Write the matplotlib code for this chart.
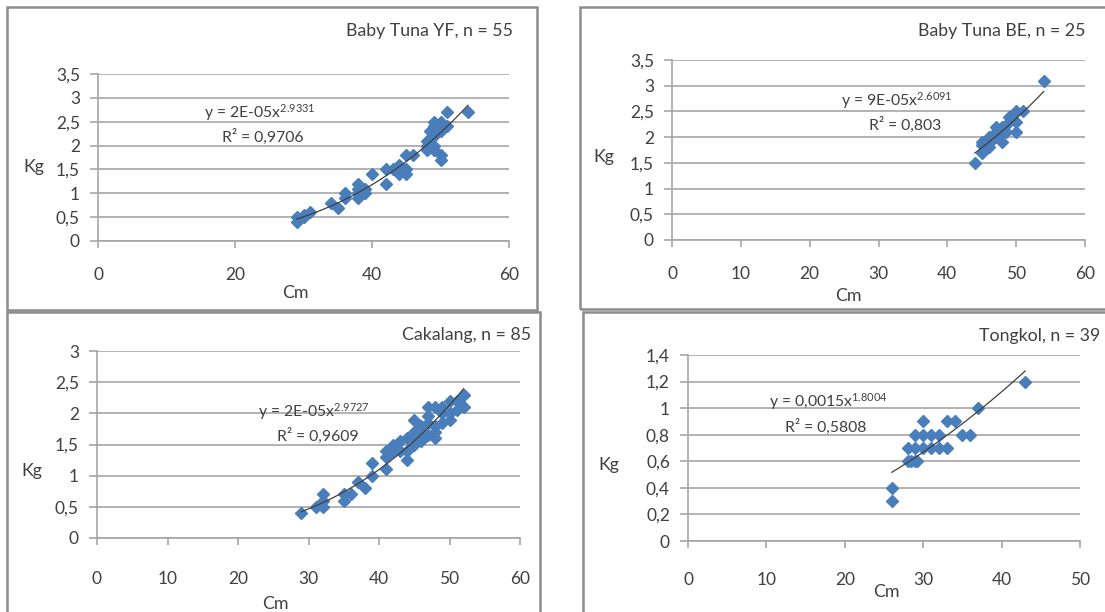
import matplotlib
matplotlib.use("Agg")
import matplotlib.pyplot as plt
from matplotlib.patches import Rectangle
import numpy as np

FONT = "Lato"
plt.rcParams['font.family'] = [FONT, 'DejaVu Sans']
plt.rcParams['mathtext.fontset'] = 'custom'
plt.rcParams['mathtext.rm'] = FONT
plt.rcParams['mathtext.default'] = 'regular'

W, H = 1105, 612
BLUE = '#4a7ebb'
GRID = '#a6a6a6'
TXT = '#404040'

# Baby Tuna YF, n = 55
yf_cm = [29, 29, 30, 30, 31, 34, 35, 36, 36, 38, 38, 38, 38, 39, 39, 40, 42, 42, 43, 44,
         44, 44, 45, 45, 45, 46, 48, 48, 48, 48.5, 49, 49, 49, 49, 49, 50, 50, 50, 50, 50,
         51, 51, 54]
yf_kg = [0.4, 0.5, 0.5, 0.55, 0.6, 0.8, 0.7, 1.0, 0.9, 1.2, 1.1, 0.9, 1.0, 1.0, 1.1, 1.4, 1.2, 1.5, 1.5, 1.4,
         1.6, 1.5, 1.5, 1.8, 1.4, 1.8, 2.1, 2.0, 1.9, 2.3, 2.5, 2.4, 2.0, 2.2, 1.9, 1.7, 1.8, 2.5, 2.3, 2.4,
         2.7, 2.4, 2.7]
yf_exp = 2.9331

# Baby Tuna BE, n = 25
be_cm = [44, 45, 45, 45, 46, 46, 46, 46.5, 47, 47, 47, 47.5, 48, 48, 48.5, 49, 49, 50, 50, 50, 51, 54]
be_kg = [1.5, 1.7, 1.9, 1.85, 1.8, 2.0, 1.9, 1.95, 2.0, 2.2, 2.1, 2.05, 1.9, 2.2, 2.1, 2.4, 2.3, 2.5, 2.3, 2.1, 2.5, 3.1]
be_exp = 2.6091

# Cakalang, n = 85
ck_cm = [29, 31, 32, 32, 32, 35, 35, 36, 37, 38, 39, 39, 41, 41, 41, 42, 42, 43, 43, 44,
         44, 44, 45, 45, 45, 45, 46, 46, 46, 46, 47, 47, 47, 47, 48, 48, 48, 48, 49, 49,
         49, 50, 50, 50, 51, 51, 52, 52]
ck_kg = [0.4, 0.5, 0.5, 0.7, 0.6, 0.6, 0.7, 0.7, 0.9, 0.8, 1.2, 1.0, 1.1, 1.4, 1.3, 1.5, 1.4, 1.55, 1.4, 1.25,
         1.4, 1.6, 1.9, 1.5, 1.7, 1.6, 1.55, 1.8, 1.7, 1.6, 2.1, 1.85, 1.65, 1.95, 2.1, 1.6, 1.8, 1.7, 2.0, 1.85,
         2.1, 2.2, 1.9, 2.0, 2.2, 2.05, 2.3, 2.1]
ck_exp = 2.9727

# Tongkol, n = 39
tk_cm = [26, 26, 28, 28, 28.5, 29, 29, 29, 29.2, 30, 30, 30, 31, 31, 32, 32, 33, 33, 34, 35, 36, 37, 43]
tk_kg = [0.4, 0.3, 0.7, 0.6, 0.6, 0.8, 0.7, 0.6, 0.6, 0.9, 0.8, 0.7, 0.8, 0.7, 0.8, 0.7, 0.9, 0.7, 0.9, 0.8, 0.8, 1.0, 1.2]
tk_exp = 1.8004

panels = [
    dict(x=yf_cm, y=yf_kg, b=yf_exp, title="Baby Tuna YF, n = 55", eq="y = 2E-05x$^{2.9331}$", r2="R² = 0,9706",
         xticks=[0, 20, 40, 60], yticks=[0, 0.5, 1, 1.5, 2, 2.5, 3, 3.5],
         ylabels=["0", "0,5", "1", "1,5", "2", "2,5", "3", "3,5"], xlim=60, xpad=14,
         ax_px=(98, 74, 509, 241), title_px=(513, 31), eq_px=(260, 113), r2_px=(263, 137),
         cm_px=(295, 293), kg_px=(34, 167), box=(7, 7, 537, 310)),
    dict(x=be_cm, y=be_kg, b=be_exp, title="Baby Tuna BE, n = 25", eq="y = 9E-05x$^{2.6091}$", r2="R² = 0,803",
         xticks=[0, 10, 20, 30, 40, 50, 60], yticks=[0, 0.5, 1, 1.5, 2, 2.5, 3, 3.5],
         ylabels=["0", "0,5", "1", "1,5", "2", "2,5", "3", "3,5"], xlim=60, xpad=13.5,
         ax_px=(672, 60, 1085, 240), title_px=(1085, 31), eq_px=(897, 101), r2_px=(905, 125),
         cm_px=(848, 296), kg_px=(604, 157), box=(580, 7, 1112, 309)),
    dict(x=ck_cm, y=ck_kg, b=ck_exp, title="Cakalang, n = 85", eq="y = 2E-05x$^{2.9727}$", r2="R² = 0,9609",
         xticks=[0, 10, 20, 30, 40, 50, 60], yticks=[0, 0.5, 1, 1.5, 2, 2.5, 3],
         ylabels=["0", "0,5", "1", "1,5", "2", "2,5", "3"], xlim=60, xpad=18.5,
         ax_px=(97, 351, 520, 538), title_px=(531, 335), eq_px=(314, 412), r2_px=(318, 436),
         cm_px=(275, 604), kg_px=(32, 471), box=(7, 312, 540, 620)),
    dict(x=tk_cm, y=tk_kg, b=tk_exp, title="Tongkol, n = 39", eq="y = 0,0015x$^{1.8004}$", r2="R² = 0,5808",
         xticks=[0, 10, 20, 30, 40, 50], yticks=[0, 0.2, 0.4, 0.6, 0.8, 1, 1.2, 1.4],
         ylabels=["0", "0,2", "0,4", "0,6", "0,8", "1", "1,2", "1,4"], xlim=50, xpad=17,
         ax_px=(688, 355, 1080, 541), title_px=(1100, 336), eq_px=(828, 402), r2_px=(826, 427),
         cm_px=(886, 592), kg_px=(609, 465), box=(583, 312, 1112, 620)),
]


def fx(px):
    return px / W


def fy(py):
    return 1 - py / H


fig = plt.figure(figsize=(W / 100, H / 100), dpi=100)
fig.patch.set_facecolor('white')

for p in panels:
    x0, y0, x1, y1 = p['box']
    fig.patches.append(Rectangle((fx(x0), fy(y1)), fx(x1 - x0), (y1 - y0) / H,
                                 transform=fig.transFigure, fill=False,
                                 edgecolor='#8c8c8c', linewidth=1.8))

    l, t, r, b = p['ax_px']
    ax = fig.add_axes([fx(l), fy(b), fx(r - l), (b - t) / H])
    ax.set_xlim(0, p['xlim'])
    ax.set_ylim(0, p['yticks'][-1])
    ax.set_xticks(p['xticks'])
    ax.set_xticklabels([str(v) for v in p['xticks']])
    ax.set_yticks(p['yticks'])
    ax.set_yticklabels(p['ylabels'])
    for s in ['top', 'right']:
        ax.spines[s].set_visible(False)
    for s in ['bottom', 'left']:
        ax.spines[s].set_color(GRID)
        ax.spines[s].set_linewidth(1.2)
    ax.grid(axis='y', color=GRID, linewidth=1.2)
    ax.set_axisbelow(True)
    ax.tick_params(axis='x', length=5, width=1.2, color=GRID, pad=p['xpad'], labelsize=12.5, labelcolor=TXT)
    ax.tick_params(axis='y', length=6, width=1.2, color=GRID, pad=7, labelsize=12.5, labelcolor=TXT)

    xs = np.array(p['x'], dtype=float)
    ys = np.array(p['y'], dtype=float)
    ax.plot(xs, ys, linestyle='none', marker='D', markersize=6, color=BLUE,
            markeredgecolor=BLUE, clip_on=False, zorder=3)

    # power trendline: exponent from the chart label, coefficient fitted on the points
    ln_a = np.mean(np.log(ys) - p['b'] * np.log(xs))
    xt = np.linspace(xs.min(), xs.max(), 100)
    ax.plot(xt, np.exp(ln_a) * xt ** p['b'], color='#404040', linewidth=0.9, zorder=4)

    fig.text(fx(p['title_px'][0]), fy(p['title_px'][1]), p['title'], ha='right', va='center',
             fontsize=12.8, color=TXT)
    fig.text(fx(p['eq_px'][0]), fy(p['eq_px'][1]), p['eq'], ha='center', va='center',
             fontsize=11.3, color=TXT)
    fig.text(fx(p['r2_px'][0]), fy(p['r2_px'][1]), p['r2'], ha='center', va='center',
             fontsize=11.3, color=TXT)
    fig.text(fx(p['cm_px'][0]), fy(p['cm_px'][1]), "Cm", ha='center', va='center',
             fontsize=12.8, color=TXT)
    fig.text(fx(p['kg_px'][0]), fy(p['kg_px'][1]), "Kg", ha='center', va='center',
             fontsize=12.8, color=TXT)

fig.savefig("out.png", dpi=100, facecolor='white')
